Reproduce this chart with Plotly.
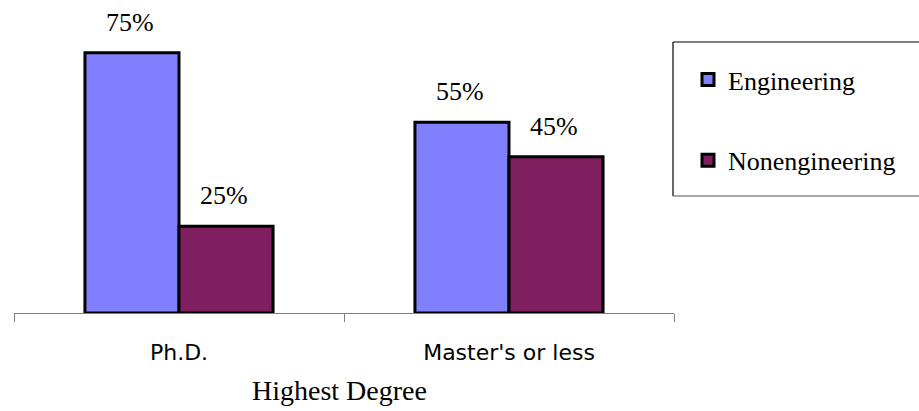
import plotly.graph_objects as go

categories = ["Ph.D.", "Master's or less"]
engineering = [75, 55]
nonengineering = [25, 45]
series_names = ["Engineering", "Nonengineering"]
label_text_eng = ["75%", "55%"]
label_text_non = ["25%", "45%"]
x_title = "Highest Degree"

ENG_COLOR = "#8080FF"
NON_COLOR = "#7F1F5F"
SERIF = "Liberation Serif, Times New Roman, serif"
SANS = "DejaVu Sans, Verdana, sans-serif"

W, H = 919, 411
ML, MR, MT, MB = 14, 245, 20, 98
PW = W - ML - MR
PH = H - MT - MB
px_per_unit = 3.47
y_max = PH / px_per_unit

fig = go.Figure()
fig.add_trace(go.Bar(x=categories, y=engineering, name=series_names[0],
                     marker=dict(color=ENG_COLOR, line=dict(color="black", width=3)),
                     legendgroup="a", cliponaxis=False))
fig.add_trace(go.Bar(x=categories, y=nonengineering, name=series_names[1],
                     marker=dict(color=NON_COLOR, line=dict(color="black", width=3)),
                     legendgroup="b", cliponaxis=False))

bar_w = PW / len(categories) * (1 - 0.43) / 2
for cat, v, t in zip(categories, engineering, label_text_eng):
    fig.add_annotation(x=cat, y=v, text=t, showarrow=False, xshift=-bar_w / 2 - 2,
                       yanchor="bottom", yshift=14, font=dict(family=SERIF, size=26, color="black"))
for cat, v, t in zip(categories, nonengineering, label_text_non):
    fig.add_annotation(x=cat, y=v, text=t, showarrow=False, xshift=bar_w / 2 - 2,
                       yanchor="bottom", yshift=14, font=dict(family=SERIF, size=26, color="black"))

fig.add_annotation(xref="paper", yref="paper", x=(339.5 - ML) / PW, y=(313 - 390) / PH,
                   text=x_title, showarrow=False, xanchor="center", yanchor="middle",
                   font=dict(family=SERIF, size=28, color="black"))

# legend frame: top, left and bottom edges only (it runs past the page edge in the reference)
lx0 = (673 - ML) / PW
lx1 = (960 - ML) / PW
ly0 = (313 - 196) / PH
ly1 = (313 - 42) / PH
for (a, b, c, d, col) in [(lx0, ly1, lx1, ly1, "black"),
                          (lx0, ly1, lx0, ly0, "black"),
                          (lx0, ly0, lx1, ly0, "#555555")]:
    fig.add_shape(type="line", xref="paper", yref="paper", x0=a, y0=b, x1=c, y1=d,
                  line=dict(color=col, width=1.2), layer="below")

fig.update_layout(
    width=W, height=H,
    margin=dict(l=ML, r=MR, t=MT, b=MB),
    paper_bgcolor="white", plot_bgcolor="white",
    barmode="group", bargap=0.43, bargroupgap=0,
    showlegend=True,
    legend=dict(x=(688 - ML) / PW, y=(313 - 56) / PH, xanchor="left", yanchor="top",
                font=dict(family=SERIF, size=26, color="black"),
                bgcolor="rgba(0,0,0,0)", borderwidth=0,
                traceorder="grouped", tracegroupgap=44),
    xaxis=dict(type="category", range=[-0.5, 1.5], showline=True, linecolor="#808080", linewidth=1,
               ticks="outside", ticklen=8, tickcolor="#808080", tickwidth=1, tickson="boundaries",
               showgrid=False, zeroline=False, ticklabelstandoff=20,
               tickfont=dict(family=SANS, size=22, color="black")),
    xaxis2=dict(overlaying="x", anchor="y", side="bottom", range=[-0.5, 1.5], type="linear",
                tickvals=[-0.5, 0.5, 1.5], ticks="inside", ticklen=9, tickcolor="#808080",
                tickwidth=1, showticklabels=False, showgrid=False, zeroline=False, showline=False),
    yaxis=dict(range=[0, y_max], visible=False, showgrid=False, zeroline=False),
)

fig.write_html("out.html")
